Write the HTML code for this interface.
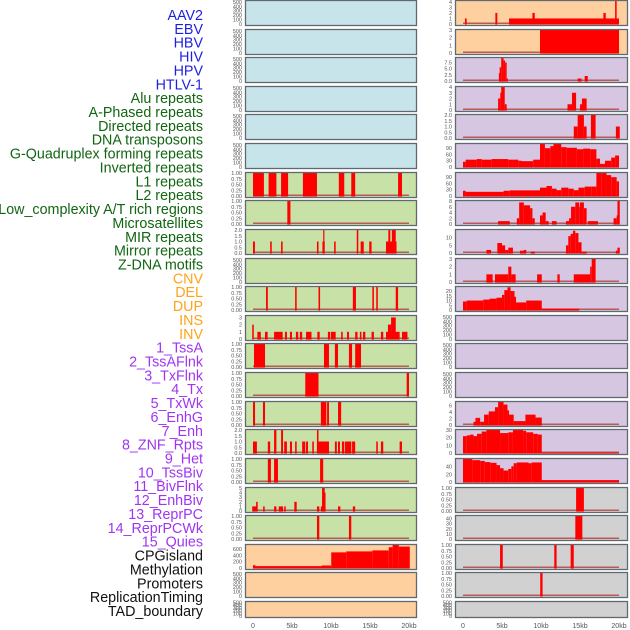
<!DOCTYPE html>
<html><head><meta charset="utf-8">
<style>
html,body{margin:0;padding:0;background:#fff;width:630px;height:630px;overflow:hidden}
svg{display:block}
text{font-family:"Liberation Sans",sans-serif}
</style></head>
<body>
<svg id="chart" width="630" height="630" viewBox="0 0 630 630"></svg>
<script>
// ---------- data ----------
const labels = ["AAV2","EBV","HBV","HIV","HPV","HTLV-1","Alu repeats","A-Phased repeats","Directed repeats","DNA transposons","G-Quadruplex forming repeats","Inverted repeats","L1 repeats","L2 repeats","Low_complexity A/T rich regions","Microsatellites","MIR repeats","Mirror repeats","Z-DNA motifs","CNV","DEL","DUP","INS","INV","1_TssA","2_TssAFlnk","3_TxFlnk","4_Tx","5_TxWk","6_EnhG","7_Enh","8_ZNF_Rpts","9_Het","10_TssBiv","11_BivFlnk","12_EnhBiv","13_ReprPC","14_ReprPCWk","15_Quies","CPGisland","Methylation","Promoters","ReplicationTiming","TAD_boundary"];
const labelGroups = ["virus","virus","virus","virus","virus","virus","repeat","repeat","repeat","repeat","repeat","repeat","repeat","repeat","repeat","repeat","repeat","repeat","repeat","sv","sv","sv","sv","sv","state","state","state","state","state","state","state","state","state","state","state","state","state","state","state","other","other","other","other","other"];
const xTicks = [0,5,10,15,20];
const xTickLabels = ["0","5kb","10kb","15kb","20kb"];

const T500 = ["0","100","200","300","400","500"];
const T500v = [0,100,200,300,400,500];
const T1 = ["0.00","0.25","0.50","0.75","1.00"];
const T1v = [0,0.25,0.5,0.75,1];

// left column panels
const leftBg = ["blue","blue","blue","blue","blue","blue","green","green","green","green","green","green","green","green","green","green","green","green","green","orange","orange","orange"];
const leftMax = [520,520,520,520,520,520,1,1,2,520,1,3.2,1,1,1,2,1,5,1,730,520,520];
const leftTickVals = [T500v,T500v,T500v,T500v,T500v,T500v,T1v,T1v,[0,0.5,1,1.5,2],T500v,T1v,[0,1,2,3],T1v,T1v,T1v,[0,0.5,1,1.5,2],T1v,[0,1,2,3,4,5],T1v,[0,200,400,600],T500v,T500v];
const leftTickLabels = [T500,T500,T500,T500,T500,T500,T1,T1,["0.0","0.5","1.0","1.5","2.0"],T500,T1,["0","1","2","3"],T1,T1,T1,["0.0","0.5","1.0","1.5","2.0"],T1,["0","1","2","3","4","5"],T1,["0","200","400","600"],T500,T500];
const leftSegs = [
 [],[],[],[],[],[],
 [[0,1.4,1],[2,3,1],[3.6,4.5,1],[6.4,8.2,1],[11,11.7,1],[12.6,13.1,1],[18.6,19.1,1]],
 [[4.4,4.8,1]],
 [[0,0.25,1],[2.2,2.4,1],[3.6,3.8,1],[8.2,8.4,1],[8.9,9.2,1],[9.0,9.15,2],[10.4,10.6,1],[13.3,13.5,2],[13.8,14.2,1],[14.9,15.2,1],[17.05,18.4,1],[17.35,17.6,2],[17.8,18.3,2]],
 [],
 [[1.67,1.9,1],[5.4,5.6,1],[8.4,8.6,1],[12.8,13.2,1],[15.3,15.5,1],[15.8,16.0,1],[18.3,18.6,1]],
 [[-0.1,0.1,2],[0.56,1.0,1],[1.54,1.88,1],[2.7,3.8,1],[4.1,4.35,1],[4.74,5.0,1],[5.5,5.8,1],[6.0,6.3,1],[6.8,7.5,1],[8.25,8.55,1],[9.6,9.9,1],[10.0,10.6,1],[11.3,11.5,1],[12.05,12.3,1],[13.1,13.4,1],[13.7,13.9,1],[14.1,14.4,1],[15.2,15.5,1],[16.4,16.7,1],[17.05,18.8,1],[17.3,17.7,2],[17.7,18.3,3],[19.1,19.8,1]],
 [[0.13,1.54,1],[9.1,9.74,1],[10.5,10.9,1],[12.3,12.7,1],[13.1,13.85,1]],
 [[6.7,8.4,1],[19.7,20.0,1]],
 [[0,0.26,1],[1.28,1.54,1],[8.7,9.4,1],[9.5,9.74,1],[10.9,11.3,1]],
 [[0,0.5,1],[1.9,2.2,1],[2.7,3.0,2],[3.6,3.85,2],[4.0,4.35,1],[4.74,5.0,1],[5.4,5.6,1],[6.3,6.7,1],[6.8,7.05,1],[7.6,7.8,1],[8.2,9.74,1],[8.2,8.4,2],[10.5,10.75,1],[10.9,11.15,1],[11.4,11.7,1],[11.8,12.6,1],[12.7,13.1,1],[15.8,16.0,1],[16.4,16.7,1],[18.8,19.1,1]],
 [[1.9,2.3,1],[2.7,3.2,1],[8.6,9.0,1]],
 [[-0.1,0.5,1],[0.4,0.6,2],[1.3,1.5,1],[2.7,3.0,1],[3.3,3.85,1],[4.0,4.2,1],[5.3,5.6,2],[8.2,8.5,1],[8.7,9.3,1],[8.85,9.2,5],[9.1,9.3,4],[10.9,11.2,1],[12.8,13.1,1]],
 [[8.2,8.5,1],[12.3,12.6,1]],
 [[0,10.03,60],[0,0.3,90],[8.8,10.0,80],[10.03,11.95,496],[11.95,15.3,527],[15.3,17.4,558],[17.4,17.9,660],[17.9,18.7,730],[18.7,20.1,680]],
 [],[]
];

// right column panels
const rightBg = ["orange","orange","purple","purple","purple","purple","purple","purple","purple","purple","purple","purple","purple","purple","purple","purple","purple","gray","gray","gray","gray","gray"];
const rightMax = [4.15,3,9.2,4,2,110,110,8,15,3,24.3,520,520,520,7.1,30,60,1,45,1,1,520];
const rightTickVals = [[0,1,2,3,4],[0,1,2,3],[0,2.5,5,7.5],[0,1,2,3,4],[0,0.5,1,1.5,2],[0,30,60,90],[0,30,60,90],[0,2,4,6,8],[0,5,10],[0,1,2,3],[0,5,10,15,20],T500v,T500v,T500v,[0,2,4,6],[0,10,20,30],[0,20,40],T1v,[0,10,20,30,40],T1v,T1v,T500v];
const rightTickLabels = [["0","1","2","3","4"],["0","1","2","3"],["0.0","2.5","5.0","7.5"],["0","1","2","3","4"],["0.0","0.5","1.0","1.5","2.0"],["0","30","60","90"],["0","30","60","90"],["0","2","4","6","8"],["0","5","10"],["0","1","2","3"],["0","5","10","15","20"],T500,T500,T500,["0","2","4","6"],["0","10","20","30"],["0","20","40"],T1,["0","10","20","30","40"],T1,T1,T500];
const rightSegs = [
 [[0.25,0.47,1],[4.15,4.4,2],[5.9,20,1],[8.9,9.2,2],[18.0,18.3,2],[19.5,19.7,4.15]],
 [[9.87,20,3]],
 [[4.6,4.7,3.2],[4.7,4.9,5.5],[4.9,5.2,9.2],[5.2,5.4,8.2],[5.4,5.6,7.4],[5.6,5.7,1],[14.7,15.2,1],[15.6,16.0,2]],
 [[4.5,4.78,2],[4.78,4.9,3],[4.9,5.35,4],[5.35,5.6,1],[13.4,13.97,1],[13.97,14.5,3],[15.0,15.25,1],[15.25,15.85,2]],
 [[14.2,14.7,1],[14.7,15.5,2],[15.5,15.85,1],[16.4,17.0,2],[19.6,20.1,1]],
 [[0,0.34,25],[0.34,1.75,35],[1.75,2.4,38],[2.4,3.67,35],[3.67,5.8,38],[5.8,7.1,35],[7.1,7.5,30],[7.5,9.0,28],[9.0,9.87,35],[9.87,10.5,110],[10.5,11.2,90],[11.2,11.6,100],[11.6,12.6,110],[12.6,13.3,95],[13.3,14.6,92],[14.6,15.4,85],[15.4,16.3,88],[16.3,17.1,85],[17.1,17.56,40],[17.56,18.2,15],[18.2,19.0,30],[19.0,19.5,45],[19.5,20.0,55]],
 [[0,0.34,25],[0.34,5.2,20],[5.2,6.0,25],[6.0,9.87,27],[9.87,10.7,40],[10.7,11.4,48],[11.4,12.0,35],[12.0,12.6,28],[12.6,13.5,40],[13.5,14.2,35],[14.2,14.8,28],[14.8,15.6,40],[15.6,16.5,45],[16.5,17.1,45],[17.1,17.8,110],[17.8,18.4,110],[18.4,19.0,100],[19.0,19.7,90],[19.7,20.0,70]],
 [[4.5,6.0,1],[6.9,7.2,2],[7.2,7.8,7.5],[7.8,8.6,6.5],[8.6,8.9,5.5],[8.9,9.2,2],[9.87,10.2,3],[10.2,10.6,4],[10.6,10.98,1],[11.4,12.0,1],[13.2,13.6,1],[13.6,13.85,2],[13.85,14.4,6],[14.4,14.9,7.5],[14.9,15.0,6],[15.0,15.5,7.5],[15.5,15.85,5.5],[16.0,17.3,1],[19.3,19.7,2],[19.7,19.8,3],[19.8,20.1,8]],
 [[3.0,3.6,2],[4.4,5.0,6.5],[5.0,5.4,5],[5.4,5.8,2],[5.8,6.4,3.5],[7.3,8.1,1.5],[7.8,8.1,2],[8.7,9.2,1],[13.2,13.5,5],[13.5,13.8,11],[13.8,14.1,12.5],[14.1,14.4,14.5],[14.4,14.8,13],[14.8,15.2,7],[15.2,15.85,1],[19.6,19.8,1.5],[19.8,20.1,3.5]],
 [[3.0,3.8,1],[4.1,5.8,1],[5.8,6.2,2],[6.2,6.75,1],[9.5,10.1,1],[12.1,12.4,1],[14.2,16.3,1],[16.3,16.5,2],[16.5,17.0,3]],
 [[0,0.47,9],[0.47,2.6,10],[2.6,3.4,11],[3.4,4.3,12],[4.3,5.0,13],[5.0,5.3,16],[5.3,5.7,21],[5.7,6.1,24],[6.1,6.6,20],[6.6,6.8,14],[6.8,8.1,8],[8.1,10.1,10],[10.1,14.9,1.5]],
 [],[],[],
 [[1.35,1.6,1],[1.6,2.2,2.2],[2.2,2.7,1],[2.7,3.3,3.2],[3.3,4.1,4.2],[4.1,4.5,5.5],[4.5,5.2,7.1],[5.2,5.7,6.3],[5.7,5.9,4.5],[5.9,6.5,3.2],[6.5,8.0,1.2],[8.0,9.3,3.2],[9.3,10.1,2.3]],
 [[0,0.47,22],[0.47,0.9,23],[0.9,1.35,24],[1.35,1.8,22],[1.8,2.4,25],[2.4,3.0,28],[3.0,4.75,30],[4.75,5.8,26],[5.8,6.4,27],[6.4,7.7,30],[7.7,8.1,29],[8.1,9.0,27],[9.0,9.6,25],[9.6,10.1,24],[10.1,20.0,0.6]],
 [[0,1.2,60],[1.2,2.2,57],[2.2,2.8,55],[2.8,3.5,52],[3.5,4.3,50],[4.3,4.75,44],[4.75,5.2,36],[5.2,5.8,30],[5.8,6.2,34],[6.2,6.5,41],[6.5,6.9,49],[6.9,8.4,51],[8.4,8.8,49],[8.8,10.1,51],[10.1,20.0,5]],
 [[14.5,15.5,1]],
 [[14.4,15.3,45]],
 [[4.75,5.1,1],[11.7,12.0,1],[13.8,14.2,1]],
 [[9.9,10.2,1]],
 []
];

// ---------- drawing ----------
const NS = "http://www.w3.org/2000/svg";
const svg = document.getElementById("chart");
const bgColors = {blue:"#c8e4eb",green:"#c8e1a7",orange:"#fed0a0",purple:"#d6c6e2",gray:"#d1d1d1"};
const labelColors = {virus:"#1f1fe0",repeat:"#116611",sv:"#ffa31a",state:"#a035f0",other:"#111111"};
const colLeft = [245,416], colRight = [455,627];
const kb0Left = 253, kb0Right = 463, pxPerKb = 7.8;
const rowPitch = 28.62, rowH = 25;

function el(tag, attrs){ const e=document.createElementNS(NS,tag); for(const k in attrs) e.setAttribute(k,attrs[k]); svg.appendChild(e); return e; }
function xScale(kb, base){ return base + kb*pxPerKb; }

// labels
labels.forEach((t,i)=>{
  const tx = el("text",{x:203,y:(15+i*13.86+5).toFixed(1),"text-anchor":"end","font-size":"14.3",fill:labelColors[labelGroups[i]]});
  tx.textContent = t;
  
  
});

function drawColumn(col, base, bgs, maxes, tvals, tlabels, segs, side){
  for(let r=0;r<bgs.length;r++){
    const top = Math.round(r*rowPitch);
    const h = r===bgs.length-1 ? 16 : rowH;
    const bottom = top + h - 1;
    const yScale = v => bottom - (Math.min(v,maxes[r])/maxes[r])*(h-2);
    const g = document.createElementNS(NS,"g"); svg.appendChild(g);
    
    
    const bg = document.createElementNS(NS,"rect");
    bg.setAttribute("x",col[0]+0.5); bg.setAttribute("y",top+0.5); bg.setAttribute("width",col[1]-col[0]); bg.setAttribute("height",h);
    bg.setAttribute("fill",bgColors[bgs[r]]);
    g.appendChild(bg);
    
    
    if(segs[r].length){
      const bl = document.createElementNS(NS,"rect");
      bl.setAttribute("x",xScale(0,base)); bl.setAttribute("y",bottom-1.5); bl.setAttribute("width",20*pxPerKb); bl.setAttribute("height",1.5);
      bl.setAttribute("fill","#b85a5a"); g.appendChild(bl);
      
      
    }
    segs[r].forEach(s=>{
      const x1 = Math.max(xScale(s[0],base), col[0]+1), x2 = Math.min(xScale(s[1],base), col[1]);
      const y = yScale(s[2]);
      const b = document.createElementNS(NS,"rect");
      b.setAttribute("x",x1.toFixed(2)); b.setAttribute("y",y.toFixed(2));
      b.setAttribute("width",Math.max(1.2,x2-x1).toFixed(2)); b.setAttribute("height",(bottom-y+0.5).toFixed(2));
      b.setAttribute("fill","#ff0000"); g.appendChild(b);
      
      
    });
    const br = document.createElementNS(NS,"rect");
    br.setAttribute("x",col[0]+0.5); br.setAttribute("y",top+0.5); br.setAttribute("width",col[1]-col[0]); br.setAttribute("height",h);
    br.setAttribute("fill","none"); br.setAttribute("stroke","#606870"); br.setAttribute("stroke-width","1.3");
    g.appendChild(br);
    
    
    tvals[r].forEach((v,k)=>{
      const t = document.createElementNS(NS,"text");
      t.setAttribute("x",col[0]-3); t.setAttribute("y",(yScale(v)+2).toFixed(1));
      t.setAttribute("text-anchor","end"); t.setAttribute("font-size","5.5"); t.setAttribute("fill","#555");
      t.textContent = tlabels[r][k]; g.appendChild(t);
      
      
    });
  }
  xTicks.forEach((v,k)=>{
    const t = el("text",{x:xScale(v,base).toFixed(1),y:628,"text-anchor":"middle","font-size":"7",fill:"#555"});
    t.textContent = xTickLabels[k];
    
    
  });
}
drawColumn(colLeft, kb0Left, leftBg, leftMax, leftTickVals, leftTickLabels, leftSegs, "left");
drawColumn(colRight, kb0Right, rightBg, rightMax, rightTickVals, rightTickLabels, rightSegs, "right");
</script>
</body></html>
